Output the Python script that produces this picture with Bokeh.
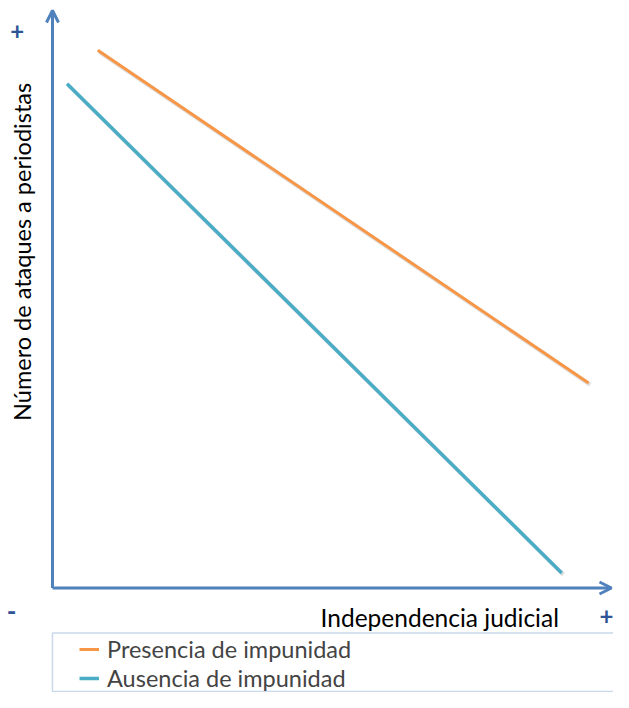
import numpy as np
from bokeh.plotting import figure
from bokeh.models import Range1d, Arrow, OpenHead, Label, Legend, LegendItem, BoxAnnotation
from bokeh.embed import file_html
from bokeh.resources import INLINE

# ---- data (conceptual chart, both axes span 0..100) ----
series_names = ["Presencia de impunidad", "Ausencia de impunidad"]
presencia_x = [8.1, 95.9]
presencia_y = [93.1, 35.5]
ausencia_x = [2.6, 91.1]
ausencia_y = [87.3, 2.6]
x_title = "Independencia judicial"
y_title = "Número de ataques a periodistas"
pole_low = "-"
pole_high = "+"

AXIS_BLUE = "#4F81BD"
SIGN_BLUE = "#2F5597"
ORANGE = "#F79646"
TEAL = "#4BACC6"
FONT = "Lato"

p = figure(width=613, height=692, output_backend="svg", toolbar_location=None,
           x_range=Range1d(-9.30, 100.36), y_range=Range1d(-18.10, 101.73),
           x_axis_location=None, y_axis_location=None,
           min_border=0, outline_line_color=None)
p.grid.visible = False
p.background_fill_color = "white"

# soft shadows under the lines
sx = 1.6 / 5.59
sy = 1.8 / 5.775
for xs, ys in [(presencia_x, presencia_y), (ausencia_x, ausencia_y)]:
    p.line(np.array(xs) + sx, np.array(ys) - sy, line_color="black", line_alpha=0.13, line_width=4)

r1 = p.line(presencia_x, presencia_y, line_color=ORANGE, line_width=3)
r2 = p.line(ausencia_x, ausencia_y, line_color=TEAL, line_width=3.5)

# axes drawn as arrows
p.add_layout(Arrow(end=OpenHead(size=12, line_color=AXIS_BLUE, line_width=3),
                   x_start=0, y_start=0, x_end=0, y_end=100,
                   line_color=AXIS_BLUE, line_width=3))
p.add_layout(Arrow(end=OpenHead(size=12, line_color=AXIS_BLUE, line_width=3),
                   x_start=0, y_start=0, x_end=100, y_end=0,
                   line_color=AXIS_BLUE, line_width=3))

# axis titles
p.add_layout(Label(x=-5.4, y=58.2, text=y_title, angle=np.pi / 2,
                   text_align="center", text_baseline="alphabetic",
                   text_font=FONT, text_font_size="23.5px", text_color="black"))
p.add_layout(Label(x=90.6, y=-5.1, text=x_title, text_align="right",
                   text_baseline="alphabetic",
                   text_font=FONT, text_font_size="24.5px", text_color="black"))

# poles
p.add_layout(Label(x=-6.3, y=96.5, text=pole_high, text_align="center", text_baseline="middle",
                   text_font=FONT, text_font_size="24px", text_font_style="bold", text_color=SIGN_BLUE))
p.add_layout(Label(x=-7.3, y=-4.1, text=pole_low, text_align="center", text_baseline="middle",
                   text_font=FONT, text_font_size="26px", text_font_style="bold", text_color=SIGN_BLUE))
p.add_layout(Label(x=99.1, y=-4.9, text=pole_high, text_align="center", text_baseline="middle",
                   text_font=FONT, text_font_size="24px", text_font_style="bold", text_color=SIGN_BLUE))

# legend frame
p.add_layout(BoxAnnotation(left=0, right=105, top=-7.79, bottom=-17.92,
                           fill_color="white", fill_alpha=1.0,
                           line_color=AXIS_BLUE, line_width=1.5, level="underlay"))

# one single-row legend per series (rows of fixed 28px height)
for item, r, vy in [(series_names[0], r1, 29), (series_names[1], r2, 0)]:
    lg = Legend(items=[LegendItem(label=item, renderers=[r])],
                location=(79, vy), border_line_color=None, background_fill_alpha=0,
                glyph_width=20, glyph_height=28, label_height=28, label_standoff=8,
                padding=0, margin=0, spacing=0,
                label_text_font=FONT, label_text_font_size="23.5px")
    p.add_layout(lg)

open("out.html", "w").write(file_html(p, INLINE))
